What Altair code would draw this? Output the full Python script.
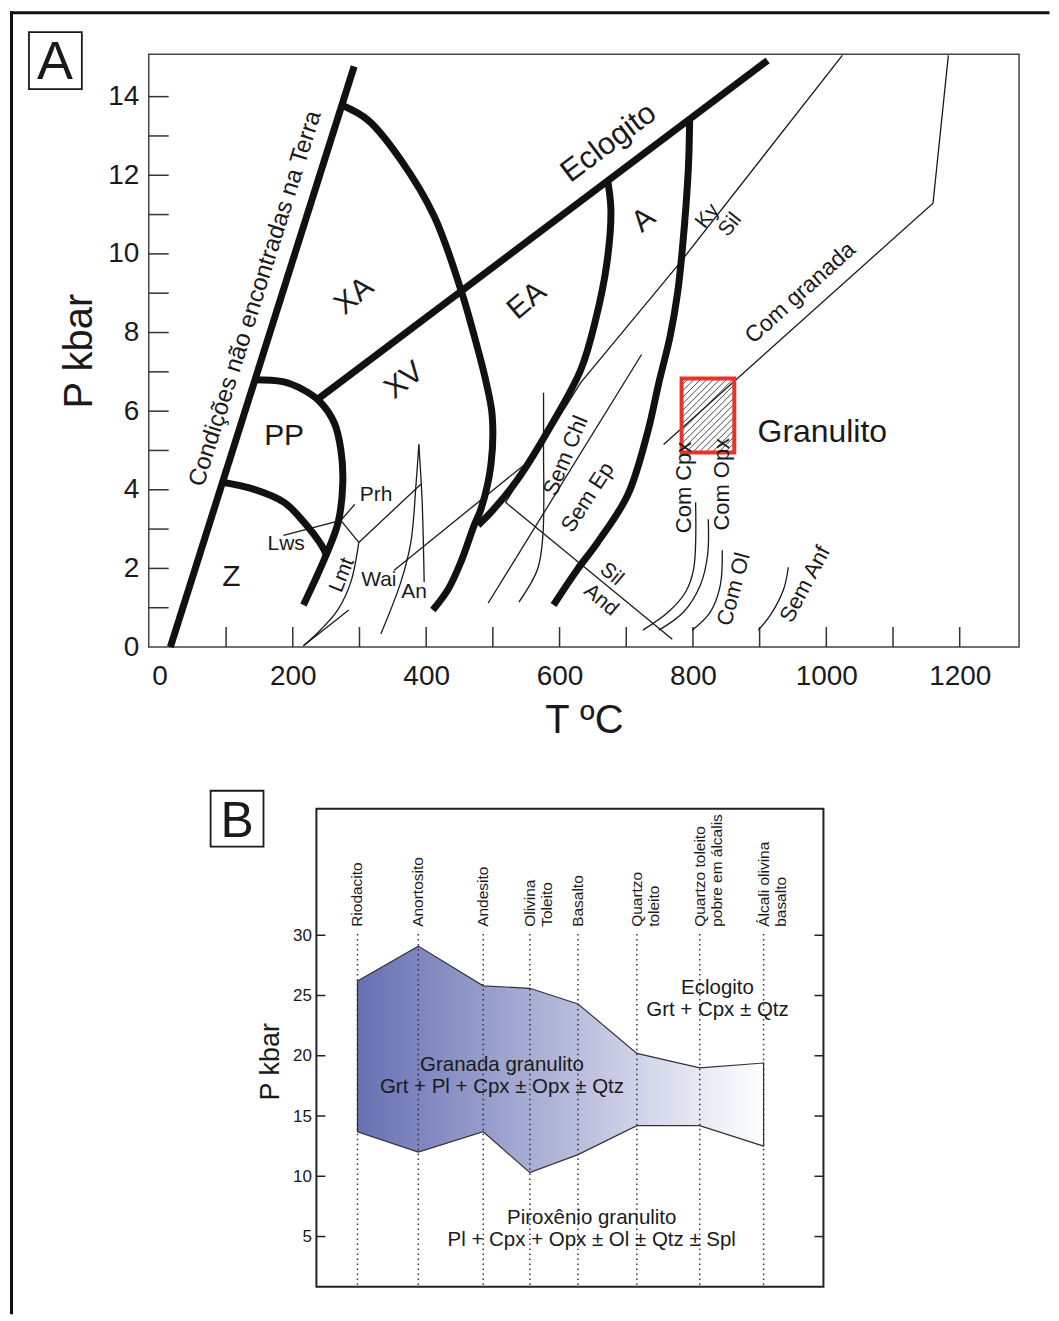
import altair as alt
import pandas as pd
import numpy as np

FONT = "Liberation Sans"
INK = "#1a1a1a"

# ======================= Panel A : P-T facies diagram =======================
T_LABELS = [0, 200, 400, 600, 800, 1000, 1200]
T_TICKS = [100, 200, 300, 400, 500, 600, 700, 800, 900, 1000, 1100, 1200]
P_LABELS = [0, 2, 4, 6, 8, 10, 12, 14]
P_TICKS = list(range(1, 15))

# thick facies boundaries  (T degC, P kbar)
condicoes = [(16.5, 0.0), (292, 14.77)]
eclogito = [(237, 6.30), (912, 14.92)]
pp_boundary = [(141, 6.80), (185, 6.75), (215, 6.55), (240, 6.25), (262, 5.71), (272, 5.03),
               (275, 4.19), (268, 3.17), (250, 2.34), (232, 1.65), (216, 1.07)]
z_boundary = [(95, 4.19), (142, 4.01), (187, 3.68), (217, 3.17), (243, 2.59), (250, 2.36)]
xa_arc = [(274, 13.78), (313, 13.40), (362, 12.39), (412, 10.96), (452, 9.09), (472, 7.92),
          (490, 6.73), (499, 5.89), (497, 4.62), (482, 3.50), (472, 3.10), (452, 2.16),
          (433, 1.47), (410, 0.94)]
ea_boundary = [(672, 11.88), (677, 11.12), (671, 9.77), (654, 8.32), (632, 7.06), (587, 5.63),
               (537, 4.26), (501, 3.50), (478, 3.10)]
a_boundary = [(795, 13.38), (793, 12.13), (784, 10.10), (777, 9.01), (766, 7.92), (749, 6.73),
              (732, 5.46), (702, 3.86), (657, 2.66), (627, 1.98), (591, 1.07)]

# thin reaction lines, straight segments
ky_sil = [(519, 3.68), (632, 6.73), (777, 9.70), (1024, 15.05)]
sil_and = [(519, 3.68), (769, 0.20)]
wai = [(352, 1.95), (546, 4.62)]
sem_ep = [(493, 1.12), (723, 7.44)]
com_granada = [(756, 5.15), (1160, 11.29), (1183, 15.05)]
lws_prh = [(186, 2.84), (272, 3.22), (293, 3.63)]
prh_link = [(272, 3.22), (299, 2.66)]
prh = [(299, 2.66), (392, 4.14)]
lmt_short = [(216, 0.03), (284, 0.94)]

# thin reaction lines, curved
sem_chl = [(576, 6.47), (576, 5.03), (575, 2.84), (567, 1.98), (539, 1.14)]
lmt = [(299, 2.66), (287, 1.65), (268, 0.96), (243, 0.46), (216, 0.03)]
an_left = [(389, 5.15), (385, 4.19), (377, 2.66), (362, 1.65), (332, 0.33)]
an_right = [(389, 5.15), (394, 3.68), (397, 1.65)]
com_cpx = [(725, 0.43), (763, 0.89), (789, 1.40), (801, 1.98), (804, 3.68)]
com_opx = [(749, 0.43), (786, 0.89), (811, 1.57), (822, 2.34), (823, 3.25)]
com_ol = [(799, 0.43), (826, 0.89), (841, 1.57), (844, 2.46)]
sem_anf = [(898, 0.43), (916, 0.81), (936, 1.47), (943, 2.03)]

# granulite box (T range, P range)
box_T = [783, 862]
box_P = [4.95, 6.83]

# labels: text, T, P
labels_A = [
    ("Condições não encontradas na Terra", 144, 8.86),
    ("Eclogito", 674, 12.82),
    ("XA", 292, 8.93), ("XV", 367, 6.78), ("EA", 551, 8.81), ("A", 726, 10.86),
    ("PP", 187, 5.36), ("Z", 108, 1.78),
    ("Lws", 190, 2.61), ("Prh", 325, 3.86), ("Lmt", 274, 1.83), ("Wai", 329, 1.70), ("An", 382, 1.40),
    ("Sem Chl", 609, 4.87), ("Sem Ep", 642, 3.81), ("Sil", 678, 1.85), ("And", 662, 1.19),
    ("Ky", 822, 10.96), ("Sil", 856, 10.74), ("Com granada", 961, 9.01), ("Granulito", 994, 5.46),
    ("Com Cpx", 786, 4.06), ("Com Opx", 843, 4.14), ("Com Ol", 861, 1.47), ("Sem Anf", 968, 1.60),
]
# style per label (angle, font size) -- kept apart from the data
label_style_A = [
    (287.5, 24), (323, 31),
    (320, 30), (322, 30), (320, 30), (320, 30),
    (0, 30), (0, 30),
    (0, 21), (0, 21), (292, 21), (0, 21), (0, 21),
    (292.5, 22), (303, 22), (40, 21), (40, 21),
    (308, 21), (308, 21), (318, 23), (0, 32),
    (270, 22), (270, 22), (285, 22), (298, 22),
]

# ======================= Panel B : granulite / eclogite fields =======================
rock_names = ["Riodacito", "Anortosito", "Andesito", "Olivina\nToleito", "Basalto",
              "Quartzo\ntoleito", "Quartzo toleito\npobre em álcalis", "Álcali olivina\nbasalto"]
rock_pos = [8.1, 20.1, 32.9, 42.1, 51.6, 63.2, 75.6, 88.2]
garnet_upper = [26.2, 29.1, 25.8, 25.6, 24.3, 20.2, 19.0, 19.4]
garnet_lower = [13.7, 12.0, 13.7, 10.3, 11.8, 14.2, 14.2, 12.5]
B_P_LABELS = [5, 10, 15, 20, 25, 30]
dotted_top = 30.1
rock_label_P = 30.7
field_texts = ["Eclogito\nGrt + Cpx ± Qtz",
               "Granada granulito\nGrt + Pl + Cpx ± Opx ± Qtz",
               "Piroxênio granulito\nPl + Cpx + Opx ± Ol ± Qtz ± Spl"]
field_pos = [79.1, 36.6, 54.3]
field_P = [25.6, 19.25, 6.54]
B_X_DOMAIN = [0, 100]
B_P_DOMAIN = [0.83, 40.5]

# ======================= build panel A =======================
W_A, H_A = 872, 594
SC_AX = alt.Scale(domain=[-16, 1289], nice=False, zero=False)
SC_AY = alt.Scale(domain=[0, 15.08], nice=False, zero=False)
AX_AX = alt.Axis(values=T_LABELS, format="d", ticks=False, domain=False, grid=False,
                 labelFont=FONT, labelFontSize=28, labelColor=INK, labelPadding=16,
                 labelFlush=False, labelOverlap=False,
                 title="T ºC", titleFont=FONT, titleFontSize=40, titleFontWeight="normal",
                 titleColor=INK, titlePadding=10)
AX_AY = alt.Axis(values=P_LABELS, format="d", ticks=False, domain=False, grid=False,
                 labelFont=FONT, labelFontSize=28, labelColor=INK, labelPadding=10,
                 labelFlush=False, labelOverlap=False,
                 title="P kbar", titleFont=FONT, titleFontSize=40, titleFontWeight="normal",
                 titleColor=INK, titlePadding=8)


def xA(f="T"):
    return alt.X(f"{f}:Q", scale=SC_AX, axis=AX_AX)


def yA(f="P"):
    return alt.Y(f"{f}:Q", scale=SC_AY, axis=AX_AY)


def curves_df(curves):
    rows = []
    for name, pts in curves.items():
        for i, (t, p) in enumerate(pts):
            rows.append({"curve": name, "i": i, "T": t, "P": p})
    return pd.DataFrame(rows)


thick = curves_df({"condicoes": condicoes, "eclogito": eclogito, "pp": pp_boundary,
                   "z": z_boundary, "xa": xa_arc, "ea": ea_boundary, "a": a_boundary})
thin_straight = curves_df({"kysil": ky_sil, "siland": sil_and, "wai": wai, "semep": sem_ep,
                           "granada": com_granada, "lws": lws_prh, "prhlink": prh_link,
                           "prh": prh, "lmtshort": lmt_short})
thin_smooth = curves_df({"semchl": sem_chl, "lmt": lmt, "anl": an_left, "anr": an_right,
                         "cpx": com_cpx, "opx": com_opx, "ol": com_ol, "anf": sem_anf})

one = pd.DataFrame({"k": [0]})
layers_A = []

layers_A.append(alt.Chart(pd.DataFrame({"T": T_TICKS})).mark_rule(color="#333", strokeWidth=1.5)
                .encode(x=xA(), y=alt.value(H_A), y2=alt.value(H_A - 20)))
layers_A.append(alt.Chart(pd.DataFrame({"P": P_TICKS})).mark_rule(color="#333", strokeWidth=1.5)
                .encode(y=yA(), x=alt.value(0), x2=alt.value(20)))

# hatch inside the granulite box (45 degree lines in screen space)
kx = W_A / (1289 + 16)
ky = H_A / 15.08
bw = (box_T[1] - box_T[0]) * kx
bh = (box_P[1] - box_P[0]) * ky
hatch = []
for k in np.arange(-bw + 3, bh, 6.5):
    u0, u1 = max(0.0, -k), min(bw, bh - k)
    if u1 > u0:
        hatch.append({"T": box_T[0] + u0 / kx, "P": box_P[0] + (u0 + k) / ky,
                      "T2": box_T[0] + u1 / kx, "P2": box_P[0] + (u1 + k) / ky})
layers_A.append(alt.Chart(pd.DataFrame(hatch)).mark_rule(color="#333", strokeWidth=0.9)
                .encode(x=xA(), y=yA(), x2="T2:Q", y2="P2:Q"))

layers_A.append(alt.Chart(thin_straight).mark_line(color=INK, strokeWidth=1.3)
                .encode(x=xA(), y=yA(), detail="curve:N", order="i:Q"))
layers_A.append(alt.Chart(thin_smooth).mark_line(color=INK, strokeWidth=1.3, interpolate="catmull-rom")
                .encode(x=xA(), y=yA(), detail="curve:N", order="i:Q"))
layers_A.append(alt.Chart(thick).mark_line(color="#111", strokeWidth=7, interpolate="catmull-rom",
                                           strokeJoin="round", strokeCap="butt")
                .encode(x=xA(), y=yA(), detail="curve:N", order="i:Q"))

layers_A.append(alt.Chart(pd.DataFrame({"T": [box_T[0]], "T2": [box_T[1]],
                                        "P": [box_P[0]], "P2": [box_P[1]]}))
                .mark_rect(fill="transparent", stroke="#e8332a", strokeWidth=4)
                .encode(x=xA(), x2="T2:Q", y=yA(), y2="P2:Q"))

for (txt, t, p), (ang, size) in zip(labels_A, label_style_A):
    layers_A.append(alt.Chart(pd.DataFrame({"T": [t], "P": [p], "txt": [txt]}))
                    .mark_text(font=FONT, fontSize=size, angle=ang, color=INK,
                               align="center", baseline="middle")
                    .encode(x=xA(), y=yA(), text="txt:N"))

# panel letter box and outer frame (decoration)
layers_A.append(alt.Chart(one).mark_rect(fill="transparent", stroke=INK, strokeWidth=1.8)
                .encode(x=alt.value(-120), x2=alt.value(-67), y=alt.value(-22), y2=alt.value(35)))
layers_A.append(alt.Chart(one).mark_text(text="A", font=FONT, fontSize=54, color=INK,
                                         align="center", baseline="alphabetic")
                .encode(x=alt.value(-94), y=alt.value(25)))
layers_A.append(alt.Chart(one).mark_rule(color="#111", strokeWidth=3, strokeCap="square")
                .encode(x=alt.value(-137.5), x2=alt.value(-137.5), y=alt.value(-41.5), y2=alt.value(740)))
layers_A.append(alt.Chart(one).mark_rule(color="#111", strokeWidth=3, strokeCap="square")
                .encode(x=alt.value(-137.5), x2=alt.value(901), y=alt.value(-41.5), y2=alt.value(-41.5)))

panelA = alt.layer(*layers_A).properties(
    width=W_A, height=H_A, view=alt.ViewBackground(stroke="#444", strokeWidth=1.5))

# ======================= build panel B =======================
# panel B shares panel A's left edge; its frame is placed inside via the scale range
W_B, H_B = 872, 479
B_LEFT, B_RIGHT = 168, 676
SC_BX = alt.Scale(domain=B_X_DOMAIN, range=[B_LEFT, B_RIGHT], nice=False, zero=False)
SC_BY = alt.Scale(domain=B_P_DOMAIN, nice=False, zero=False)
AX_BY = alt.Axis(values=B_P_LABELS, format="d", ticks=False, domain=False, grid=False,
                 offset=-B_LEFT,
                 labelFont=FONT, labelFontSize=17, labelColor=INK, labelPadding=5,
                 labelFlush=False, labelOverlap=False,
                 title="P kbar", titleFont=FONT, titleFontSize=27, titleFontWeight="normal",
                 titleColor=INK, titlePadding=8, titleY=253)


def xB(f="pos"):
    return alt.X(f"{f}:Q", scale=SC_BX, axis=None)


def yB(f="P"):
    return alt.Y(f"{f}:Q", scale=SC_BY, axis=AX_BY)


dfB = pd.DataFrame({"pos": rock_pos, "upper": garnet_upper, "lower": garnet_lower,
                    "name": rock_names, "top": [dotted_top] * len(rock_pos),
                    "lab": [rock_label_P] * len(rock_pos)})
grad = {"gradient": "linear", "x1": 0, "x2": 1, "y1": 0, "y2": 0,
        "stops": [{"offset": 0, "color": "#6770b3"}, {"offset": 1, "color": "#ffffff"}]}
tick_len = (B_X_DOMAIN[1] - B_X_DOMAIN[0]) * 9 / (B_RIGHT - B_LEFT)
dfT = pd.DataFrame({"P": B_P_LABELS,
                    "l0": [B_X_DOMAIN[0]] * 6, "l1": [B_X_DOMAIN[0] + tick_len] * 6,
                    "r0": [B_X_DOMAIN[1] - tick_len] * 6, "r1": [B_X_DOMAIN[1]] * 6})

layers_B = []
layers_B.append(alt.Chart(dfB).mark_area(fill=grad, stroke="#333", strokeWidth=1.2, interpolate="linear")
                .encode(x=xB(), y=yB("upper"), y2="lower:Q"))
layers_B.append(alt.Chart(dfB).mark_rule(color="#333", strokeWidth=1.5, strokeDash=[1.5, 3.5])
                .encode(x=xB(), y=yB("top"), y2=alt.value(H_B)))
layers_B.append(alt.Chart(dfB).mark_text(font=FONT, fontSize=15.5, angle=270, align="left",
                                         baseline="middle", lineBreak="\n", lineHeight=17, color=INK)
                .encode(x=xB(), y=yB("lab"), text="name:N"))
layers_B.append(alt.Chart(pd.DataFrame({"pos": field_pos, "P": field_P, "txt": field_texts}))
                .mark_text(font=FONT, fontSize=20.5, align="center", baseline="middle",
                           lineBreak="\n", lineHeight=22, color=INK)
                .encode(x=xB(), y=yB(), text="txt:N"))
layers_B.append(alt.Chart(dfT).mark_rule(color="#222", strokeWidth=1.5)
                .encode(y=yB(), x=xB("l0"), x2="l1:Q"))
layers_B.append(alt.Chart(dfT).mark_rule(color="#222", strokeWidth=1.5)
                .encode(y=yB(), x=xB("r0"), x2="r1:Q"))
# plot frame of panel B
layers_B.append(alt.Chart(pd.DataFrame({"x0": [B_X_DOMAIN[0]], "x1": [B_X_DOMAIN[1]],
                                        "P": [B_P_DOMAIN[0]], "P2": [B_P_DOMAIN[1]]}))
                .mark_rect(fill="transparent", stroke="#222", strokeWidth=2)
                .encode(x=xB("x0"), x2="x1:Q", y=yB(), y2="P2:Q"))
layers_B.append(alt.Chart(one).mark_rect(fill="transparent", stroke=INK, strokeWidth=1.8)
                .encode(x=alt.value(62), x2=alt.value(115), y=alt.value(-18), y2=alt.value(38)))
layers_B.append(alt.Chart(one).mark_text(text="B", font=FONT, fontSize=50, color=INK,
                                         align="center", baseline="alphabetic")
                .encode(x=alt.value(88.5), y=alt.value(28)))
layers_B.append(alt.Chart(one).mark_rule(color="#111", strokeWidth=3, strokeCap="square")
                .encode(x=alt.value(-137.5), x2=alt.value(-137.5), y=alt.value(-70), y2=alt.value(505)))

panelB = alt.layer(*layers_B).properties(
    width=W_B, height=H_B, view=alt.ViewBackground(stroke="transparent"))

# flush bounds: rows are stacked by plot size only, so the frame pieces may overlap
chart = alt.vconcat(panelA, panelB, spacing=162, bounds="flush").properties(padding=0, background="white")
chart.save("out.html", embed_options={"renderer": "svg", "actions": False})
